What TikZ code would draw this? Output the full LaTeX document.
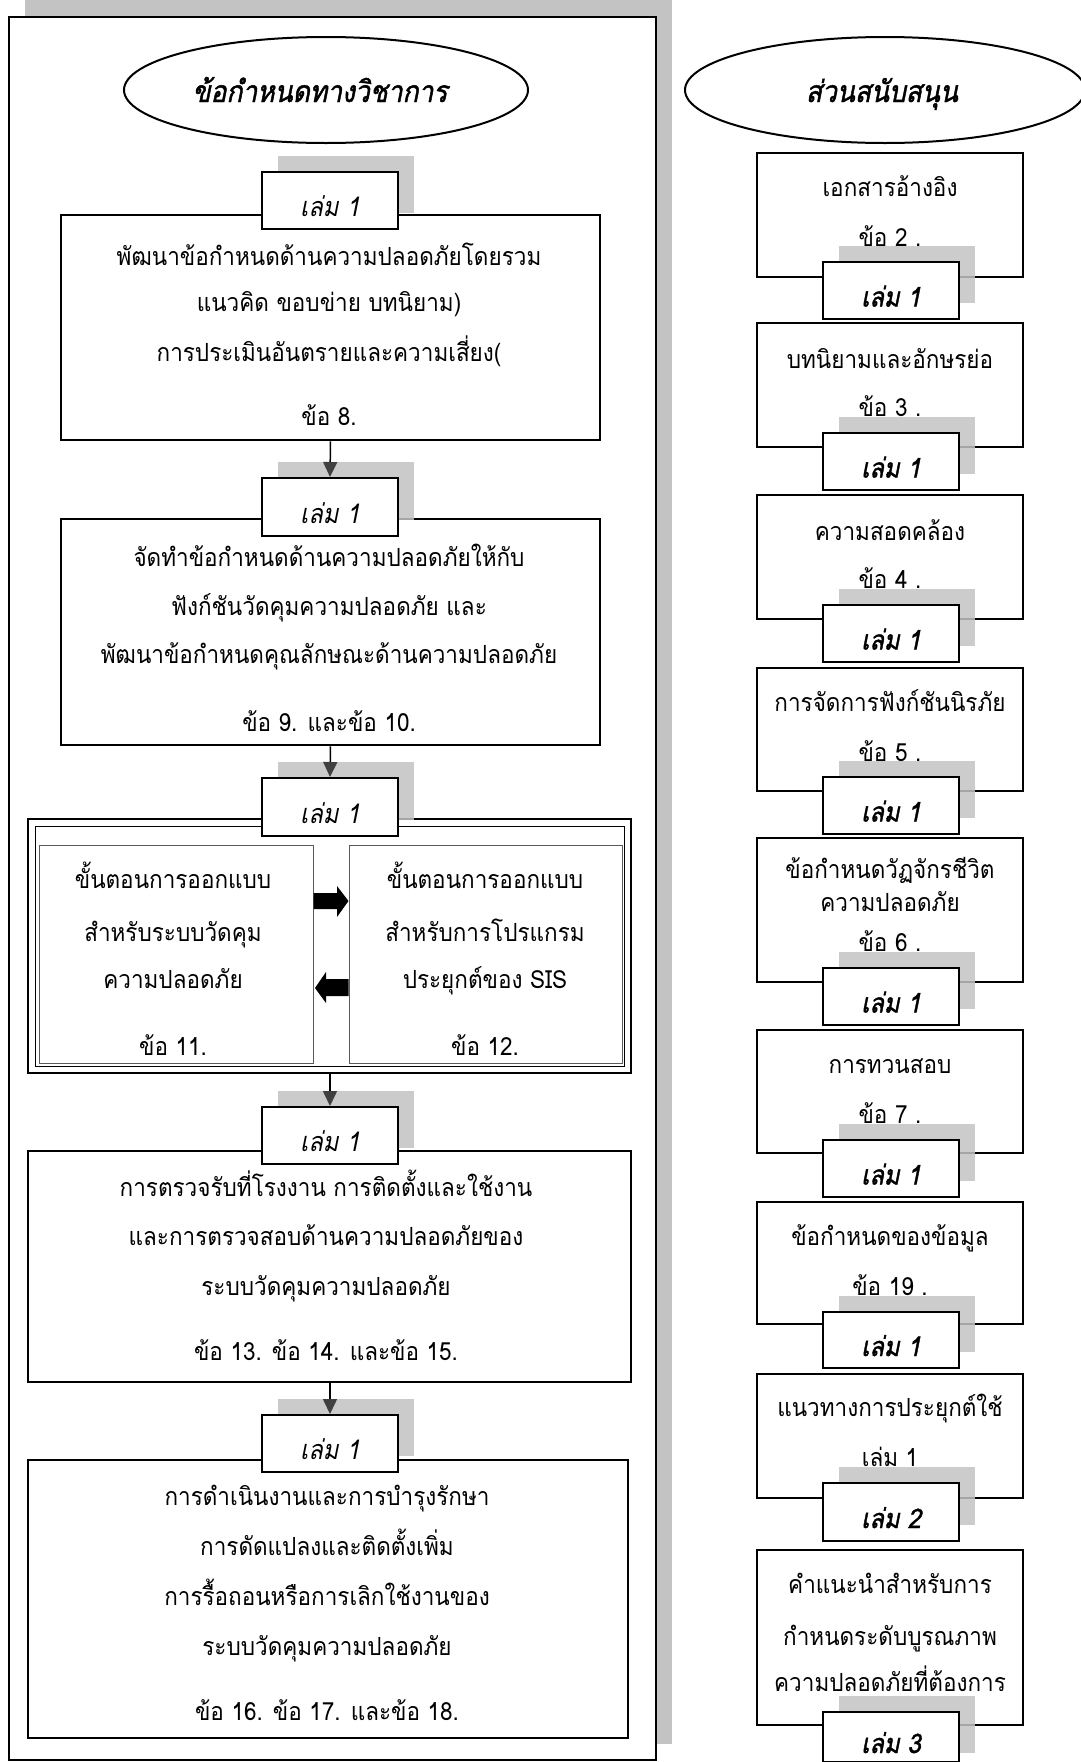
\documentclass[tikz,border=0pt]{standalone}
\usepackage{fontspec}
\setmainfont[Script=Thai,FakeStretch=0.9]{Loma}
\newfontfamily\thaiit[Script=Thai,FakeSlant=0.2,FakeStretch=0.88]{Loma}
\newfontfamily\thaibi[Script=Thai,FakeSlant=0.2,FakeBold=1.5,FakeStretch=0.88]{Loma}
\usetikzlibrary{arrows.meta,fit,shapes.geometric}
\definecolor{shgray}{RGB}{195,195,195}
\definecolor{arrgray}{RGB}{64,64,64}
\definecolor{inngray}{RGB}{90,90,90}
% tag shadow: name, centre x, top, bottom
\newcommand\tagshadow[4]{\node[sh,fit={({#2-52},{#3-16}) ({#2+84},{#4-16})}] (#1s) {};}
% tag box: name, centre x, top, bottom, text style, text
\newcommand\tagbox[6]{\node[tg,fit={({#2-68},{#3}) ({#2+68},{#4})}] (#1) {};
  \node[#5] (#1x) at (#2,{(#3+#4)/2+16}) {#6};}
% text line: name, x, visual centre y, text
\newcommand\tl[4]{\node[txt] (#1) at (#2,{#3+8}) {#4};}
\begin{document}
\begin{tikzpicture}[x=1pt,y=-1pt,
  bx/.style={draw,line width=2.5pt,inner sep=0pt},
  thinbx/.style={draw=inngray,line width=1pt,inner sep=0pt},
  tg/.style={draw,fill=white,line width=2pt,inner sep=0pt},
  sh/.style={fill=shgray,fill opacity=0.85,inner sep=0pt},
  txt/.style={anchor=base,inner sep=0pt,font=\fontsize{25pt}{30pt}\selectfont},
  ltag/.style={anchor=base,inner sep=0pt,font=\thaiit\fontsize{27pt}{30pt}\selectfont},
  rtag/.style={anchor=base,inner sep=0pt,font=\thaibi\fontsize{27pt}{30pt}\selectfont},
  ttl/.style={anchor=base,inner sep=0pt,font=\thaibi\fontsize{30pt}{34pt}\selectfont},
  ell/.style={draw,ellipse,fill=white,line width=2pt,inner sep=0pt},
  arr/.style={line width=1.5pt,-{Triangle[width=14pt,length=15pt,color=arrgray]}},
  blk/.style={fill=black}]
\useasboundingbox (0,0) rectangle (1081,1762);
\clip (0,0) rectangle (1081,1762);
% ---------- left panel frame ----------
\node[fill=shgray,inner sep=0pt,fit={(25,0) (672,1744)}] (frames) {};
\node[draw,fill=white,line width=2pt,inner sep=0pt,fit={(9,17) (656,1760)}] (frame) {};
% ---------- titles ----------
\node[ell,minimum width=404pt,minimum height=106pt] (lell) at (326,90) {};
\node[ell,minimum width=400pt,minimum height=106pt] (rell) at (885,90) {};
% ---------- left boxes ----------
\node[bx,fit={(61,215) (600,440)}] (b1) {};
\node[bx,fit={(61,519) (600,745)}] (b2) {};
\node[bx,fit={(28,819) (631,1073)}] (b3) {};
\node[draw,line width=0.8pt,inner sep=0pt,fit={(35,826) (624,1066)}] (b3in) {};
\node[thinbx,fit={(39,845) (313,1063)}] (b3l) {};
\node[thinbx,fit={(349,845) (622,1063)}] (b3r) {};
\node[bx,fit={(28,1151) (631,1382)}] (b4) {};
\node[bx,fit={(28,1460) (628,1738)}] (b5) {};
% ---------- right boxes ----------
\node[bx,fit={(757,153) (1023,277)}] (r1) {};
\node[bx,fit={(757,323) (1023,447)}] (r2) {};
\node[bx,fit={(757,495) (1023,619)}] (r3) {};
\node[bx,fit={(757,668) (1023,791)}] (r4) {};
\node[bx,fit={(757,838) (1023,982)}] (r5) {};
\node[bx,fit={(757,1030) (1023,1153)}] (r6) {};
\node[bx,fit={(757,1202) (1023,1324)}] (r7) {};
\node[bx,fit={(757,1374) (1023,1498)}] (r8) {};
\node[bx,fit={(757,1550) (1023,1725)}] (r9) {};
% ---------- tag shadows ----------
\tagshadow{t1}{330}{172}{229}
\tagshadow{t2}{330}{478}{536}
\tagshadow{t3}{330}{778}{836}
\tagshadow{t4}{330}{1107}{1164}
\tagshadow{t5}{330}{1415}{1472}
\tagshadow{s1}{891}{262}{319}
\tagshadow{s2}{891}{433}{490}
\tagshadow{s3}{891}{605}{662}
\tagshadow{s4}{891}{777}{834}
\tagshadow{s5}{891}{968}{1025}
\tagshadow{s6}{891}{1140}{1197}
\tagshadow{s7}{891}{1312}{1368}
\tagshadow{s8}{891}{1483}{1541}
\tagshadow{s9}{891}{1712}{1769}
% ---------- tags ----------
\tagbox{t1}{330}{172}{229}{ltag}{เล่ม 1}
\tagbox{t2}{330}{478}{536}{ltag}{เล่ม 1}
\tagbox{t3}{330}{778}{836}{ltag}{เล่ม 1}
\tagbox{t4}{330}{1107}{1164}{ltag}{เล่ม 1}
\tagbox{t5}{330}{1415}{1472}{ltag}{เล่ม 1}
\tagbox{s1}{891}{262}{319}{rtag}{เล่ม 1}
\tagbox{s2}{891}{433}{490}{rtag}{เล่ม 1}
\tagbox{s3}{891}{605}{662}{rtag}{เล่ม 1}
\tagbox{s4}{891}{777}{834}{rtag}{เล่ม 1}
\tagbox{s5}{891}{968}{1025}{rtag}{เล่ม 1}
\tagbox{s6}{891}{1140}{1197}{rtag}{เล่ม 1}
\tagbox{s7}{891}{1312}{1368}{rtag}{เล่ม 1}
\tagbox{s8}{891}{1483}{1541}{rtag}{เล่ม 2}
\tagbox{s9}{891}{1712}{1762}{rtag}{เล่ม 3}
% ---------- connectors ----------
\draw[arr] (b1.south) -- (t2.north);
\draw[arr] (b2.south) -- (t3.north);
\draw[arr] (b3.south -| t4.north) -- (t4.north);
\draw[arr] (b4.south -| t5.north) -- (t5.north);
% block arrows between the two design boxes
\fill[blk] (b3l.east |- 0,893) -- (337,893) -- (337,886) -- (b3r.west |- 0,901) -- (337,917) -- (337,909) -- (b3l.east |- 0,909) -- cycle;
\fill[blk] (b3r.west |- 0,979) -- (326,979) -- (326,972) -- (315,988) -- (326,1003) -- (326,996) -- (b3r.west |- 0,996) -- cycle;
% ---------- titles text ----------
\node[ttl] (lttl) at (320,102) {ข้อกำหนดทางวิชาการ};
\node[ttl] (rttl) at (882,102) {ส่วนสนับสนุน};
% ---------- left texts ----------
\tl{b1a}{329}{257}{พัฒนาข้อกำหนดด้านความปลอดภัยโดยรวม}
\tl{b1b}{329}{303}{แนวคิด ขอบข่าย บทนิยาม)}
\tl{b1c}{329}{353}{การประเมินอันตรายและความเสี่ยง(}
\tl{b1d}{329}{417}{ข้อ 8.}
\tl{b2a}{329}{558}{จัดทำข้อกำหนดด้านความปลอดภัยให้กับ}
\tl{b2b}{329}{607}{ฟังก์ชันวัดคุมความปลอดภัย และ}
\tl{b2c}{329}{655}{พัฒนาข้อกำหนดคุณลักษณะด้านความปลอดภัย}
\tl{b2d}{329}{723}{ข้อ 9. และข้อ 10.}
\tl{b3a}{173}{880}{ขั้นตอนการออกแบบ}
\tl{b3b}{173}{933}{สำหรับระบบวัดคุม}
\tl{b3c}{173}{980}{ความปลอดภัย}
\tl{b3d}{173}{1047}{ข้อ 11.}
\tl{b3e}{485}{880}{ขั้นตอนการออกแบบ}
\tl{b3f}{485}{933}{สำหรับการโปรแกรม}
\tl{b3g}{485}{980}{ประยุกต์ของ SIS}
\tl{b3h}{485}{1047}{ข้อ 12.}
\tl{b4a}{326}{1188}{การตรวจรับที่โรงงาน การติดตั้งและใช้งาน}
\tl{b4b}{326}{1237}{และการตรวจสอบด้านความปลอดภัยของ}
\tl{b4c}{326}{1287}{ระบบวัดคุมความปลอดภัย}
\tl{b4d}{326}{1352}{ข้อ 13. ข้อ 14. และข้อ 15.}
\tl{b5a}{327}{1497}{การดำเนินงานและการบำรุงรักษา}
\tl{b5b}{327}{1547}{การดัดแปลงและติดตั้งเพิ่ม}
\tl{b5c}{327}{1597}{การรื้อถอนหรือการเลิกใช้งานของ}
\tl{b5d}{327}{1647}{ระบบวัดคุมความปลอดภัย}
\tl{b5e}{327}{1712}{ข้อ 16. ข้อ 17. และข้อ 18.}
% ---------- right texts ----------
\tl{r1a}{890}{188}{เอกสารอ้างอิง}
\tl{r1b}{890}{238}{ข้อ 2 .}
\tl{r2a}{890}{360}{บทนิยามและอักษรย่อ}
\tl{r2b}{890}{408}{ข้อ 3 .}
\tl{r3a}{890}{532}{ความสอดคล้อง}
\tl{r3b}{890}{580}{ข้อ 4 .}
\tl{r4a}{890}{703}{การจัดการฟังก์ชันนิรภัย}
\tl{r4b}{890}{753}{ข้อ 5 .}
\tl{r5a}{890}{870}{ข้อกำหนดวัฏจักรชีวิต}
\tl{r5b}{890}{903}{ความปลอดภัย}
\tl{r5c}{890}{943}{ข้อ 6 .}
\tl{r6a}{890}{1065}{การทวนสอบ}
\tl{r6b}{890}{1115}{ข้อ 7 .}
\tl{r7a}{890}{1237}{ข้อกำหนดของข้อมูล}
\tl{r7b}{890}{1287}{ข้อ 19 .}
\tl{r8a}{890}{1408}{แนวทางการประยุกต์ใช้}
\tl{r8b}{890}{1458}{เล่ม 1}
\tl{r9a}{890}{1585}{คำแนะนำสำหรับการ}
\tl{r9b}{890}{1637}{กำหนดระดับบูรณภาพ}
\tl{r9c}{890}{1683}{ความปลอดภัยที่ต้องการ}
\end{tikzpicture}
\end{document}
